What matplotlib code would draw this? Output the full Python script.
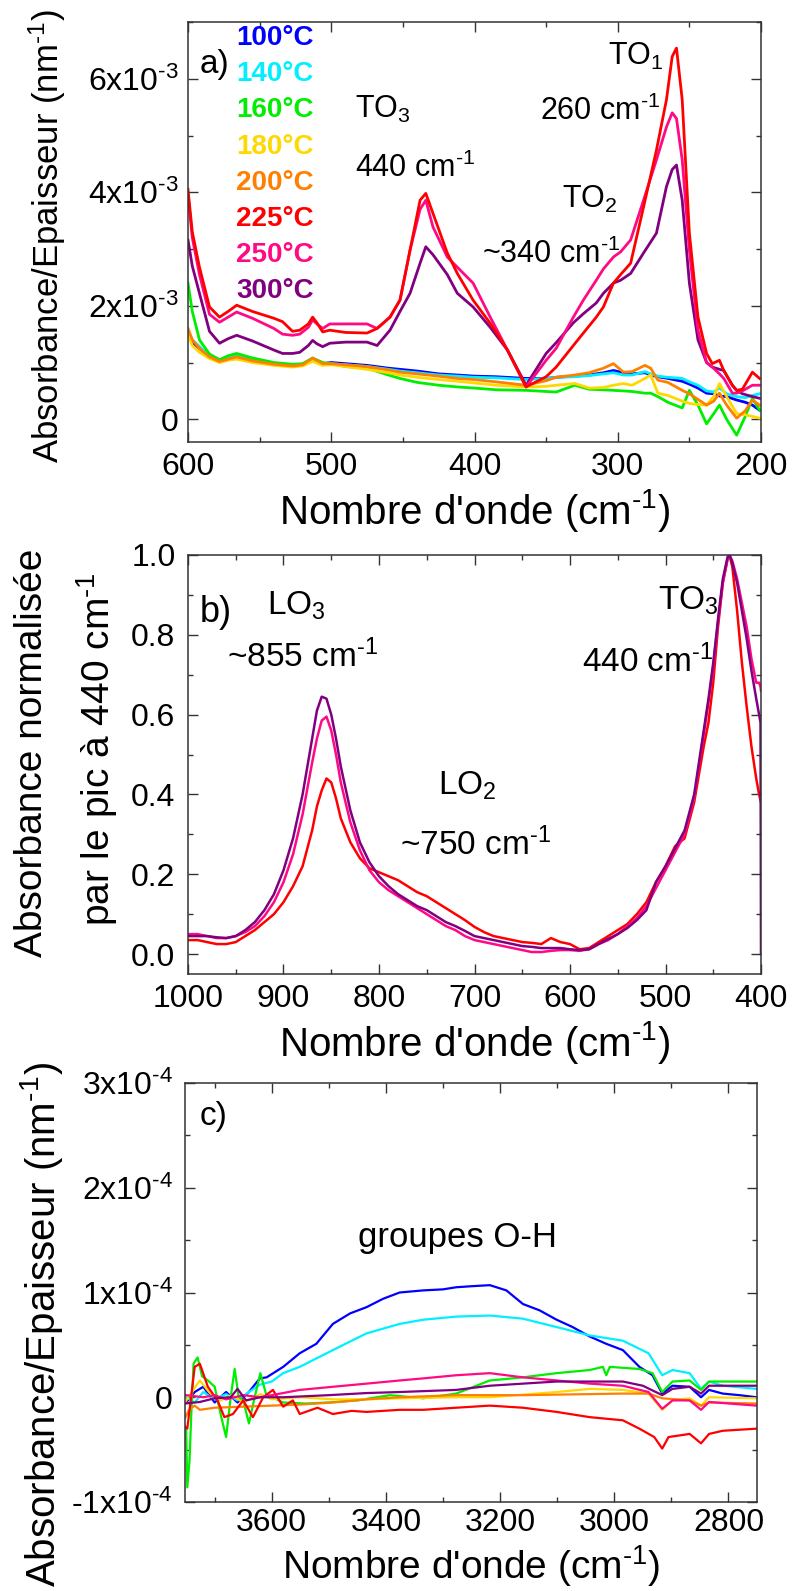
import numpy as np
import matplotlib
matplotlib.use('Agg')
import matplotlib.pyplot as plt
from matplotlib.ticker import MultipleLocator

plt.rcParams['font.family'] = ['Liberation Sans', 'DejaVu Sans']
plt.rcParams['mathtext.fontset'] = 'custom'
plt.rcParams['mathtext.rm'] = 'Liberation Sans'
plt.rcParams['mathtext.it'] = 'Liberation Sans:italic'
plt.rcParams['mathtext.bf'] = 'Liberation Sans:bold'
plt.rcParams['mathtext.default'] = 'regular'

# legend / colours
temps = ['100°C', '140°C', '160°C', '180°C', '200°C', '225°C', '250°C', '300°C']
colors = ['#0000FF', '#00F0FF', '#00EE00', '#FFD800', '#FF8000', '#FF0000', '#FF0A84', '#800080']

# ---- panel a : absorbance / thickness (x 1e-3 nm-1), 600-200 cm-1
a_low_x = [600, 597, 592, 585, 578, 572, 566, 555, 540, 527,
           520, 513, 506, 500, 490, 475, 460, 452, 440, 425,
           412, 400, 385, 364, 350, 343, 330, 320, 310, 303,
           296, 290, 281, 277, 272, 265, 255, 250, 244, 238,
           233, 229, 224, 217, 211, 206, 201]
a_100 = [1.5, 1.35, 1.25, 1.10, 1.02, 1.08, 1.10, 1.05, 0.98, 0.95,
         0.97, 1.05, 0.98, 1.0, 0.98, 0.95, 0.90, 0.88, 0.85, 0.80,
         0.78, 0.76, 0.75, 0.72, 0.72, 0.74, 0.76, 0.78, 0.82, 0.86,
         0.82, 0.80, 0.82, 0.78, 0.75, 0.72, 0.67, 0.62, 0.55, 0.46,
         0.45, 0.41, 0.40, 0.34, 0.30, 0.25, 0.16]
a_140 = [1.55, 1.4, 1.28, 1.12, 1.05, 1.1, 1.12, 1.05, 0.98, 0.94,
         0.96, 1.04, 0.97, 0.98, 0.96, 0.93, 0.88, 0.85, 0.82, 0.78,
         0.76, 0.74, 0.73, 0.70, 0.72, 0.74, 0.75, 0.77, 0.80, 0.82,
         0.78, 0.78, 0.84, 0.80, 0.76, 0.74, 0.72, 0.66, 0.60, 0.50,
         0.48, 0.55, 0.45, 0.40, 0.38, 0.42, 0.45]
a_160 = [2.4, 1.9, 1.4, 1.15, 1.05, 1.12, 1.16, 1.08, 1.0, 0.97,
         0.98, 1.08, 1.0, 0.98, 0.93, 0.90, 0.78, 0.72, 0.65, 0.60,
         0.57, 0.55, 0.52, 0.51, 0.49, 0.48, 0.60, 0.53, 0.52, 0.51,
         0.50, 0.49, 0.46, 0.46, 0.40, 0.30, 0.20, 0.51, 0.25, -0.08,
         0.10, 0.25, 0.0, -0.28, 0.05, 0.37, 0.16]
a_180 = [1.5, 1.3, 1.18, 1.07, 1.0, 1.04, 1.06, 1.0, 0.95, 0.92,
         0.94, 1.02, 0.95, 0.96, 0.93, 0.88, 0.82, 0.78, 0.74, 0.70,
         0.67, 0.64, 0.60, 0.57, 0.58, 0.60, 0.63, 0.55, 0.56, 0.60,
         0.63, 0.60, 0.72, 0.78, 0.46, 0.42, 0.32, 0.28, 0.26, 0.25,
         0.40, 0.63, 0.40, 0.10, 0.08, 0.05, 0.02]
a_200 = [1.6, 1.4, 1.25, 1.1, 1.02, 1.06, 1.10, 1.03, 0.97, 0.94,
         0.96, 1.08, 0.98, 0.98, 0.96, 0.93, 0.87, 0.83, 0.80, 0.76,
         0.72, 0.70, 0.66, 0.60, 0.68, 0.74, 0.78, 0.82, 0.90, 0.98,
         0.83, 0.84, 0.95, 0.90, 0.69, 0.65, 0.51, 0.45, 0.35, 0.25,
         0.32, 0.46, 0.25, 0.02, 0.15, 0.34, 0.25]

a_high_x = [600, 597, 592, 585, 578, 572, 566, 555, 540, 534,
            527, 522, 516, 513, 510, 506, 501, 490, 475, 468,
            459, 452, 445, 438, 434, 429, 419, 412, 401, 389,
            377, 364, 350, 343, 331, 324, 315, 310, 303, 298,
            291, 282, 273, 266, 262, 259, 255, 250, 244, 238,
            234, 229, 226, 220, 217, 213, 206, 201]
a_225 = [4.05, 3.3, 2.68, 1.98, 1.80, 1.90, 2.01, 1.90, 1.78, 1.72,
         1.55, 1.57, 1.68, 1.80, 1.70, 1.54, 1.57, 1.53, 1.52, 1.60,
         1.80, 2.10, 2.98, 3.86, 3.98, 3.63, 2.93, 2.57, 2.10, 1.69,
         1.22, 0.57, 0.75, 0.92, 1.30, 1.52, 1.80, 1.98, 2.40, 2.55,
         2.75, 3.74, 4.74, 5.63, 6.39, 6.54, 5.63, 3.28, 1.80, 1.16,
         0.98, 1.04, 0.86, 0.60, 0.51, 0.53, 0.83, 0.72]
a_250 = [3.95, 3.2, 2.55, 1.85, 1.71, 1.80, 1.89, 1.78, 1.60, 1.50,
         1.48, 1.50, 1.62, 1.75, 1.68, 1.60, 1.68, 1.68, 1.68, 1.60,
         1.80, 2.10, 2.98, 3.70, 3.86, 3.39, 2.86, 2.68, 2.40, 1.80,
         1.22, 0.57, 1.04, 1.25, 1.80, 2.10, 2.45, 2.65, 2.86, 2.95,
         3.16, 3.86, 4.57, 5.15, 5.40, 5.30, 4.57, 2.98, 1.57, 1.00,
         0.92, 0.80, 0.72, 0.46, 0.46, 0.50, 0.60, 0.60]
a_300 = [3.16, 2.7, 2.22, 1.55, 1.34, 1.42, 1.48, 1.38, 1.22, 1.16,
         1.16, 1.18, 1.30, 1.39, 1.33, 1.28, 1.34, 1.36, 1.36, 1.30,
         1.57, 1.90, 2.22, 2.75, 3.04, 2.90, 2.55, 2.22, 1.98, 1.62,
         1.22, 0.60, 1.16, 1.35, 1.70, 1.86, 2.05, 2.22, 2.40, 2.45,
         2.57, 2.93, 3.28, 4.10, 4.40, 4.48, 3.86, 2.40, 1.40, 1.00,
         0.92, 0.88, 0.86, 0.60, 0.51, 0.45, 0.40, 0.37]

# ---- panel b : absorbance normalised to the 440 cm-1 peak, 1000-400 cm-1
b_x = [1000, 990, 980, 970, 960, 950, 940, 930, 920, 910,
       900, 890, 880, 870, 865, 860, 855, 850, 845, 840,
       830, 820, 810, 800, 790, 780, 770, 760, 750, 740,
       730, 720, 710, 700, 690, 680, 670, 660, 650, 640,
       630, 620, 610, 600, 590, 580, 570, 560, 550, 540,
       530, 520, 510, 500, 490, 480, 470, 460, 455, 450,
       445, 440, 435, 433, 430, 425, 420, 415, 410, 405,
       402, 400.5, 400]
b_225 = [0.035, 0.035, 0.03, 0.025, 0.025, 0.03, 0.045, 0.06, 0.08, 0.10,
         0.13, 0.17, 0.22, 0.31, 0.37, 0.41, 0.44, 0.43, 0.39, 0.34,
         0.28, 0.24, 0.215, 0.205, 0.195, 0.185, 0.17, 0.155, 0.145, 0.13,
         0.115, 0.10, 0.085, 0.068, 0.055, 0.045, 0.04, 0.035, 0.03, 0.028,
         0.025, 0.04, 0.03, 0.025, 0.012, 0.015, 0.03, 0.045, 0.06, 0.075,
         0.10, 0.13, 0.18, 0.22, 0.27, 0.29, 0.38, 0.52, 0.58, 0.68,
         0.82, 0.93, 0.99, 1.0, 0.97, 0.86, 0.73, 0.62, 0.52, 0.44,
         0.40, 0.385, 0.38]
b_250 = [0.05, 0.05, 0.045, 0.04, 0.04, 0.045, 0.055, 0.07, 0.095, 0.13,
         0.18, 0.25, 0.35, 0.48, 0.54, 0.585, 0.595, 0.56, 0.50, 0.43,
         0.33, 0.26, 0.21, 0.18, 0.16, 0.145, 0.13, 0.115, 0.10, 0.085,
         0.07, 0.06, 0.045, 0.035, 0.03, 0.025, 0.02, 0.015, 0.01, 0.005,
         0.005, 0.008, 0.01, 0.01, 0.008, 0.012, 0.025, 0.035, 0.05, 0.07,
         0.09, 0.12, 0.165, 0.21, 0.255, 0.30, 0.39, 0.55, 0.63, 0.72,
         0.83, 0.93, 0.99, 1.0, 0.985, 0.94, 0.88, 0.82, 0.74, 0.68,
         0.68, 0.67, 0.66]
b_300 = [0.045, 0.045, 0.045, 0.042, 0.04, 0.045, 0.06, 0.08, 0.11, 0.15,
         0.21, 0.29, 0.40, 0.54, 0.61, 0.645, 0.64, 0.60, 0.54, 0.47,
         0.36, 0.28, 0.23, 0.195, 0.17, 0.15, 0.135, 0.12, 0.11, 0.095,
         0.08, 0.07, 0.058, 0.045, 0.04, 0.035, 0.03, 0.025, 0.02, 0.018,
         0.015, 0.015, 0.015, 0.012, 0.01, 0.012, 0.025, 0.038, 0.05, 0.065,
         0.085, 0.11, 0.18, 0.22, 0.265, 0.31, 0.40, 0.56, 0.64, 0.73,
         0.84, 0.94, 0.995, 1.0, 0.98, 0.93, 0.86, 0.79, 0.71, 0.64,
         0.60, 0.58, 0.0]

# ---- panel c : O-H region (x 1e-4 nm-1), 3750-2750 cm-1
c_100_x = [3750, 3735, 3720, 3700, 3680, 3660, 3640, 3621, 3609, 3580,
           3551, 3522, 3493, 3463, 3434, 3405, 3376, 3335, 3300, 3277,
           3250, 3218, 3189, 3160, 3131, 3101, 3073, 3043, 3014, 2985,
           2956, 2933, 2916, 2898, 2868, 2848, 2834, 2810, 2781, 2751]
c_100 = [-0.05, 0.05, 0.1, -0.05, 0.05, -0.05, 0.05, 0.18, 0.19, 0.29,
         0.42, 0.51, 0.70, 0.80, 0.86, 0.94, 1.0, 1.02, 1.03, 1.05,
         1.06, 1.07, 1.02, 0.89, 0.83, 0.74, 0.67, 0.58, 0.51, 0.45,
         0.29, 0.21, 0.035, 0.11, 0.10, 0.0, 0.07, 0.035, 0.02, 0.0]
c_140_x = [3750, 3735, 3720, 3700, 3680, 3660, 3640, 3621, 3600, 3580,
           3551, 3493, 3434, 3376, 3335, 3277, 3218, 3160, 3101, 3043,
           2985, 2940, 2916, 2898, 2868, 2848, 2834, 2810, 2751]
c_140 = [0.0, -0.05, 0.05, -0.02, 0.03, -0.03, 0.05, 0.12, 0.15, 0.23,
         0.29, 0.45, 0.61, 0.70, 0.74, 0.77, 0.78, 0.75, 0.67, 0.59,
         0.54, 0.42, 0.21, 0.26, 0.23, 0.08, 0.15, 0.11, 0.08]
c_160_x = [3750, 3748, 3744, 3741, 3737, 3730, 3722, 3712, 3700, 3688,
           3680, 3672, 3665, 3658, 3650, 3640, 3630, 3620, 3610, 3580,
           3540, 3500, 3450, 3393, 3335, 3277, 3218, 3160, 3101, 3043,
           3020, 3014, 3008, 2956, 2933, 2916, 2898, 2868, 2848, 2834, 2751]
c_160 = [-0.3, -0.86, -0.6, -0.16, 0.32, 0.38, 0.2, 0.16, 0.1, -0.2,
         -0.38, 0.0, 0.27, 0.0, -0.03, -0.25, 0.0, 0.23, 0.03, -0.05,
         -0.06, -0.05, -0.03, 0.02, -0.01, 0.035, 0.16, 0.19, 0.23, 0.26,
         0.29, 0.21, 0.29, 0.27, 0.23, 0.05, 0.15, 0.16, 0.07, 0.15, 0.15]
c_180_x = [3752, 3740, 3726, 3710, 3690, 3670, 3650, 3620, 3600, 3551,
           3493, 3434, 3376, 3277, 3218, 3101, 3043, 2985, 2940, 2916,
           2898, 2868, 2848, 2834, 2751]
c_180 = [-0.05, 0.05, 0.16, 0.05, -0.03, 0.02, -0.05, 0.03, -0.02, 0.0,
         -0.02, -0.02, -0.01, 0.0, 0.0, 0.05, 0.08, 0.07, 0.035, -0.12,
         -0.03, -0.01, -0.08, 0.0, -0.01]
c_200_x = [3752, 3745, 3735, 3726, 3700, 3650, 3600, 3551, 3493, 3434,
           3376, 3277, 3160, 3043, 2985, 2940, 2916, 2868, 2848, 2834, 2751]
c_200 = [-0.2, -0.12, -0.08, -0.12, -0.10, -0.09, -0.08, -0.07, -0.05, -0.02,
         0.0, 0.02, 0.02, 0.03, 0.035, 0.035, -0.01, -0.03, -0.08, -0.05, -0.06]
c_225_x = [3752, 3748, 3744, 3735, 3726, 3712, 3695, 3683, 3668, 3650,
           3633, 3615, 3598, 3580, 3563, 3551, 3520, 3493, 3460, 3434,
           3376, 3335, 3277, 3218, 3160, 3101, 3043, 2985, 2956, 2930,
           2916, 2905, 2868, 2848, 2834, 2810, 2751]
c_225 = [-0.28, -0.3, -0.12, 0.29, 0.32, 0.1, -0.03, -0.19, -0.16, -0.03,
         -0.19, 0.0, 0.07, -0.09, -0.03, -0.16, -0.10, -0.16, -0.13, -0.14,
         -0.12, -0.12, -0.10, -0.08, -0.10, -0.14, -0.19, -0.22, -0.30, -0.38,
         -0.49, -0.38, -0.35, -0.44, -0.35, -0.32, -0.30]
c_250_x = [3750, 3720, 3700, 3680, 3650, 3620, 3600, 3551, 3493, 3434,
           3376, 3335, 3277, 3218, 3160, 3101, 3043, 2985, 2940, 2916,
           2898, 2868, 2848, 2834, 2751]
c_250 = [0.02, 0.0, 0.02, -0.02, 0.02, 0.0, 0.02, 0.07, 0.10, 0.13,
         0.16, 0.18, 0.21, 0.23, 0.19, 0.16, 0.13, 0.11, 0.05, -0.11,
         -0.03, -0.03, -0.12, -0.045, -0.08]
c_300_x = [3752, 3726, 3700, 3672, 3660, 3645, 3620, 3580, 3500, 3434,
           3376, 3277, 3218, 3160, 3101, 2985, 2950, 2916, 2898, 2868,
           2848, 2834, 2751]
c_300 = [-0.06, -0.045, -0.01, 0.0, 0.08, -0.03, 0.0, 0.0, 0.02, 0.04,
         0.05, 0.07, 0.11, 0.13, 0.15, 0.15, 0.11, 0.02, 0.08, 0.10,
         0.035, 0.11, 0.11]

W, H = 792, 1591
fig = plt.figure(figsize=(W / 100, H / 100), dpi=100)

# superscripts written with a plain hyphen, as in the original
CM = r'cm$^{\text{-1}}$'
NM = r'nm$^{\text{-1}}$'


def sci(m, e):
    return m + r'x10$^{\text{-' + e + '}}$'


def box(left, top, right, bottom):
    # pixel box -> figure fraction rect
    return [left / W, 1 - bottom / H, (right - left) / W, (bottom - top) / H]


def style(ax, xpad, ypad):
    ax.tick_params(which='both', direction='in', top=True, right=True,
                   labelsize=23, width=1.0, color='#333333')
    ax.tick_params(which='major', length=7)
    ax.tick_params(which='minor', length=3.5)
    ax.tick_params(axis='x', pad=xpad)
    ax.tick_params(axis='y', pad=ypad)
    for s in ax.spines.values():
        s.set_linewidth(1.1)
        s.set_color('#333333')


ax_a = fig.add_axes(box(188, 22, 761, 442))
ax_b = fig.add_axes(box(188, 555, 761, 974))
ax_c = fig.add_axes(box(185, 1083, 757, 1502))

# ---------- a)
low = [a_100, a_140, a_160, a_180, a_200]
for ys, c in zip(low, colors[:5]):
    ax_a.plot(a_low_x, np.array(ys) * 1e-3, color=c, lw=2.0)
for ys, c in zip([a_300, a_250, a_225], [colors[7], colors[6], colors[5]]):
    ax_a.plot(a_high_x, np.array(ys) * 1e-3, color=c, lw=2.0)
ax_a.set_xlim(600, 200)
ax_a.set_ylim(-0.4e-3, 7e-3)
ax_a.set_xticks([600, 500, 400, 300, 200])
ax_a.xaxis.set_minor_locator(MultipleLocator(50))
ax_a.set_yticks([0, 2e-3, 4e-3, 6e-3],
                ['0', sci('2', '3'), sci('4', '3'), sci('6', '3')])
ax_a.yaxis.set_minor_locator(MultipleLocator(1e-3))
style(ax_a, 7, 7)

for i, (t, c) in enumerate(zip(temps, colors)):
    ax_a.text(0.084, 0.962 - i * 0.0862, t, color=c, fontsize=20,
              fontweight='bold', transform=ax_a.transAxes, va='center')
ax_a.text(0.021, 0.898, 'a)', fontsize=24, transform=ax_a.transAxes, va='center')
ann = dict(fontsize=22, va='baseline', transform=ax_a.transAxes)
ax_a.text(0.291, 0.771, 'TO$_3$', **ann)
ax_a.text(0.291, 0.631, '440 ' + CM, **ann)
ax_a.text(0.733, 0.898, 'TO$_1$', **ann)
ax_a.text(0.614, 0.767, '260 ' + CM, **ann)
ax_a.text(0.653, 0.557, 'TO$_2$', **ann)
ax_a.text(0.513, 0.426, '~340 ' + CM, **ann)

# ---------- b)
for ys, c in zip([b_225, b_250, b_300], [colors[5], colors[6], colors[7]]):
    ax_b.plot(b_x, ys, color=c, lw=1.8)
ax_b.set_xlim(1000, 400)
ax_b.set_ylim(-0.05, 1.0)
ax_b.set_xticks([1000, 900, 800, 700, 600, 500, 400])
ax_b.xaxis.set_minor_locator(MultipleLocator(50))
ax_b.set_yticks([0.0, 0.2, 0.4, 0.6, 0.8, 1.0],
                ['0.0', '0.2', '0.4', '0.6', '0.8', '1.0'])
ax_b.yaxis.set_minor_locator(MultipleLocator(0.1))
style(ax_b, 7, 9)

ax_b.text(0.021, 0.862, 'b)', fontsize=26, transform=ax_b.transAxes, va='center')
ann = dict(fontsize=24, va='baseline', transform=ax_b.transAxes)
ax_b.text(0.138, 0.857, 'LO$_3$', **ann)
ax_b.text(0.068, 0.733, '~855 ' + CM, **ann)
ax_b.text(0.820, 0.869, 'TO$_3$', **ann)
ax_b.text(0.688, 0.721, '440 ' + CM, **ann)
ax_b.text(0.436, 0.427, 'LO$_2$', **ann)
ax_b.text(0.370, 0.284, '~750 ' + CM, **ann)

# ---------- c)
c_x = [c_100_x, c_140_x, c_160_x, c_180_x, c_200_x, c_225_x, c_250_x, c_300_x]
c_y = [c_100, c_140, c_160, c_180, c_200, c_225, c_250, c_300]
for xs, ys, c in zip(c_x, c_y, colors):
    ax_c.plot(xs, np.array(ys) * 1e-4, color=c, lw=1.6)
ax_c.set_xlim(3752, 2750)
ax_c.set_ylim(-1e-4, 3e-4)
ax_c.set_xticks([3600, 3400, 3200, 3000, 2800])
ax_c.xaxis.set_minor_locator(MultipleLocator(100))
ax_c.set_yticks([-1e-4, 0, 1e-4, 2e-4, 3e-4],
                [sci('-1', '4'), '0', sci('1', '4'), sci('2', '4'), sci('3', '4')])
ax_c.yaxis.set_minor_locator(MultipleLocator(0.5e-4))
style(ax_c, 4, 9)

ax_c.text(0.026, 0.921, 'c)', fontsize=24, transform=ax_c.transAxes, va='center')
ax_c.text(0.302, 0.609, 'groupes O-H', fontsize=25, va='baseline',
          transform=ax_c.transAxes)

# ---------- axis titles
xlab = "Nombre d'onde (" + CM + ")"
fig.text(474.5 / W, 1 - 511 / H, xlab, fontsize=29, ha='center', va='center')
fig.text(474.5 / W, 1 - 1043 / H, xlab, fontsize=29, ha='center', va='center')
fig.text(471 / W, 1 - 1589 / H, xlab, fontsize=28, ha='center', va='bottom')

fig.text(47 / W, 1 - 236 / H, 'Absorbance/Epaisseur (' + NM + ')', fontsize=25,
         rotation=90, ha='center', va='center')
fig.text(32 / W, 1 - 753 / H, 'Absorbance normalisée', fontsize=28,
         rotation=90, ha='center', va='center')
fig.text(97 / W, 1 - 749 / H, 'par le pic à 440 ' + CM, fontsize=28,
         rotation=90, ha='center', va='center')
fig.text(42 / W, 1 - 1325 / H, 'Absorbance/Epaisseur (' + NM + ')', fontsize=29,
         rotation=90, ha='center', va='center')

fig.savefig('out.png', dpi=100)
